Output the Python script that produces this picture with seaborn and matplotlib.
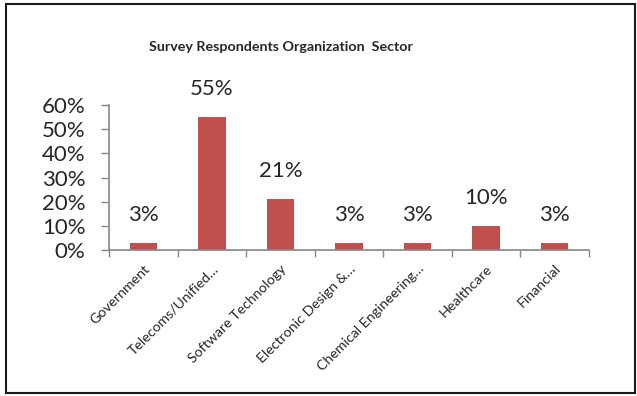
import matplotlib
matplotlib.use("Agg")
import matplotlib.pyplot as plt
import seaborn as sns
import pandas as pd
from matplotlib.patches import Rectangle
from matplotlib.ticker import FixedLocator, NullFormatter

categories = ["Government", "Telecoms/Unified…", "Software Technology",
              "Electronic Design &…", "Chemical Engineering…", "Healthcare", "Financial"]
values = [0.03, 0.55, 0.21, 0.03, 0.03, 0.10, 0.03]
value_labels = ["3%", "55%", "21%", "3%", "3%", "10%", "3%"]
y_ticks = [0, 0.1, 0.2, 0.3, 0.4, 0.5, 0.6]
y_tick_labels = ["0%", "10%", "20%", "30%", "40%", "50%", "60%"]
title = "Survey Respondents Organization  Sector"

sns.set_style("white")
plt.rcParams["font.family"] = ["Lato", "DejaVu Sans"]

df = pd.DataFrame({"sector": categories, "share": values})

fig = plt.figure(figsize=(6.37, 3.96), dpi=100)
ax = fig.add_axes([109/637, 1-250/396, 480/637, 145/396])
sns.barplot(data=df, x="sector", y="share", color="#C0504D", saturation=1,
            width=0.4, ax=ax, edgecolor="none")

ax.set_ylim(0, 0.6)
ax.set_xlim(-0.5, len(categories) - 0.5)
ax.set_yticks(y_ticks)
ax.set_yticklabels(y_tick_labels, fontsize=16)
ax.set_xlabel("")
ax.set_ylabel("")

# x labels at centers, tick marks at boundaries
ax.set_xticks(range(len(categories)))
ax.set_xticklabels(categories, rotation=45, ha="right", rotation_mode="anchor", fontsize=10.2)
ax.tick_params(axis="x", which="major", length=0, pad=9)
ax.xaxis.set_minor_locator(FixedLocator([i - 0.5 for i in range(len(categories) + 1)]))
ax.xaxis.set_minor_formatter(NullFormatter())
ax.tick_params(axis="x", which="minor", length=5, width=1, color="#868686", direction="out", bottom=True)
ax.tick_params(axis="y", length=6, width=1, color="#868686", direction="out", left=True, pad=11)

for side in ["top", "right"]:
    ax.spines[side].set_visible(False)
for side in ["left", "bottom"]:
    ax.spines[side].set_color("#868686")
    ax.spines[side].set_linewidth(1.2)

for i, (v, lab) in enumerate(zip(values, value_labels)):
    ax.annotate(lab, (i, v), xytext=(0, 20), textcoords="offset points",
                ha="center", va="center", fontsize=16)

fig.text(281/637, 1-47/396, title, ha="center", va="center", fontsize=10.3, fontweight="bold")

fig.patches.append(Rectangle((6/637, 3/396), 629/637, 389/396, transform=fig.transFigure,
                             fill=False, edgecolor="#1a1a1a", linewidth=1.5))

fig.savefig("out.png", dpi=100)
